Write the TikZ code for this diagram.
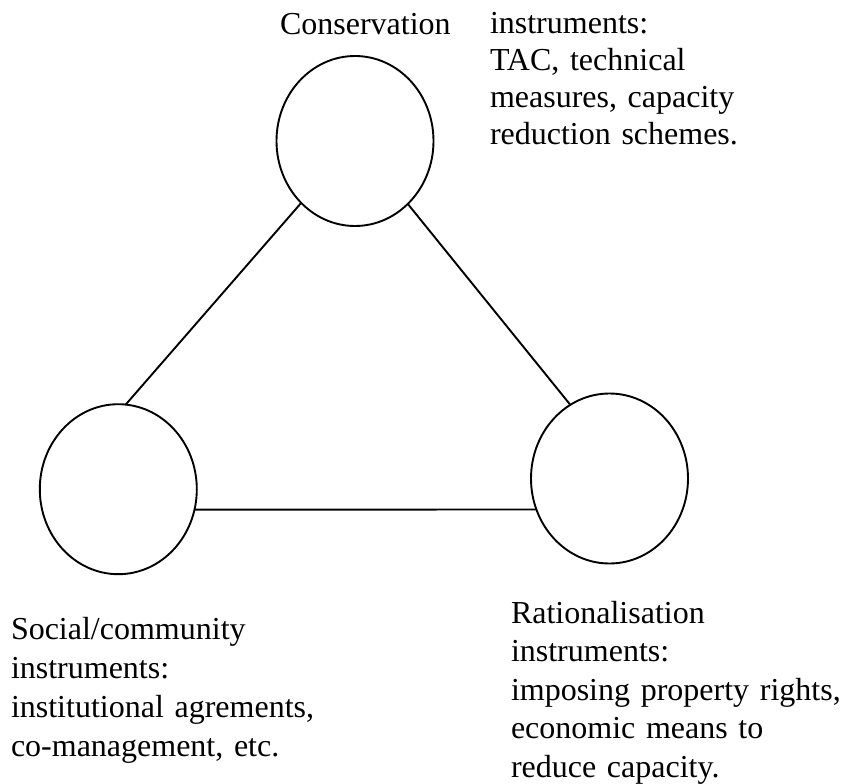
\documentclass[tikz,border=0pt]{standalone}
\usepackage{fontspec}
\setmainfont{Liberation Serif}
\usetikzlibrary{shapes.geometric}
\begin{document}
\begin{tikzpicture}[x=1pt,y=-1pt,
  ring/.style={ellipse,draw,line width=1.9pt,minimum width=157pt,minimum height=170pt,inner sep=0pt,outer sep=0pt},
  link/.style={line width=1.9pt},
  lbl/.style={anchor=base west,inner sep=0pt,outer sep=0pt,text width=420pt,align=left}]
\useasboundingbox (0,0) rectangle (841,784);
\node[ring] (cons) at (355,141) {};
\node[ring] (soc) at (118.3,489.2) {};
\node[ring] (rat) at (609.5,478.5) {};
\draw[link] (cons.229) -- (soc.85);
\draw[link] (cons.310) -- (rat.118);
\draw[link] (soc.345) -- (rat.203);
\node[lbl,font=\fontsize{32}{36.8}\selectfont] (tconsA) at (280,35) {Conservation};
\node[lbl,font=\fontsize{32}{36.8}\selectfont] (tconsB) at (490,34) {instruments:\\TAC, technical\\measures, capacity\\reduction schemes.};
\node[lbl,font=\fontsize{32}{39.2}\selectfont] (tsoc) at (11,639) {Social/community\\instruments:\\institutional agrements,\\co-management, etc.};
\node[lbl,font=\fontsize{32}{38.5}\selectfont] (trat) at (511,623) {Rationalisation\\instruments:\\imposing property rights,\\economic means to\\reduce capacity.};
\end{tikzpicture}
\end{document}
